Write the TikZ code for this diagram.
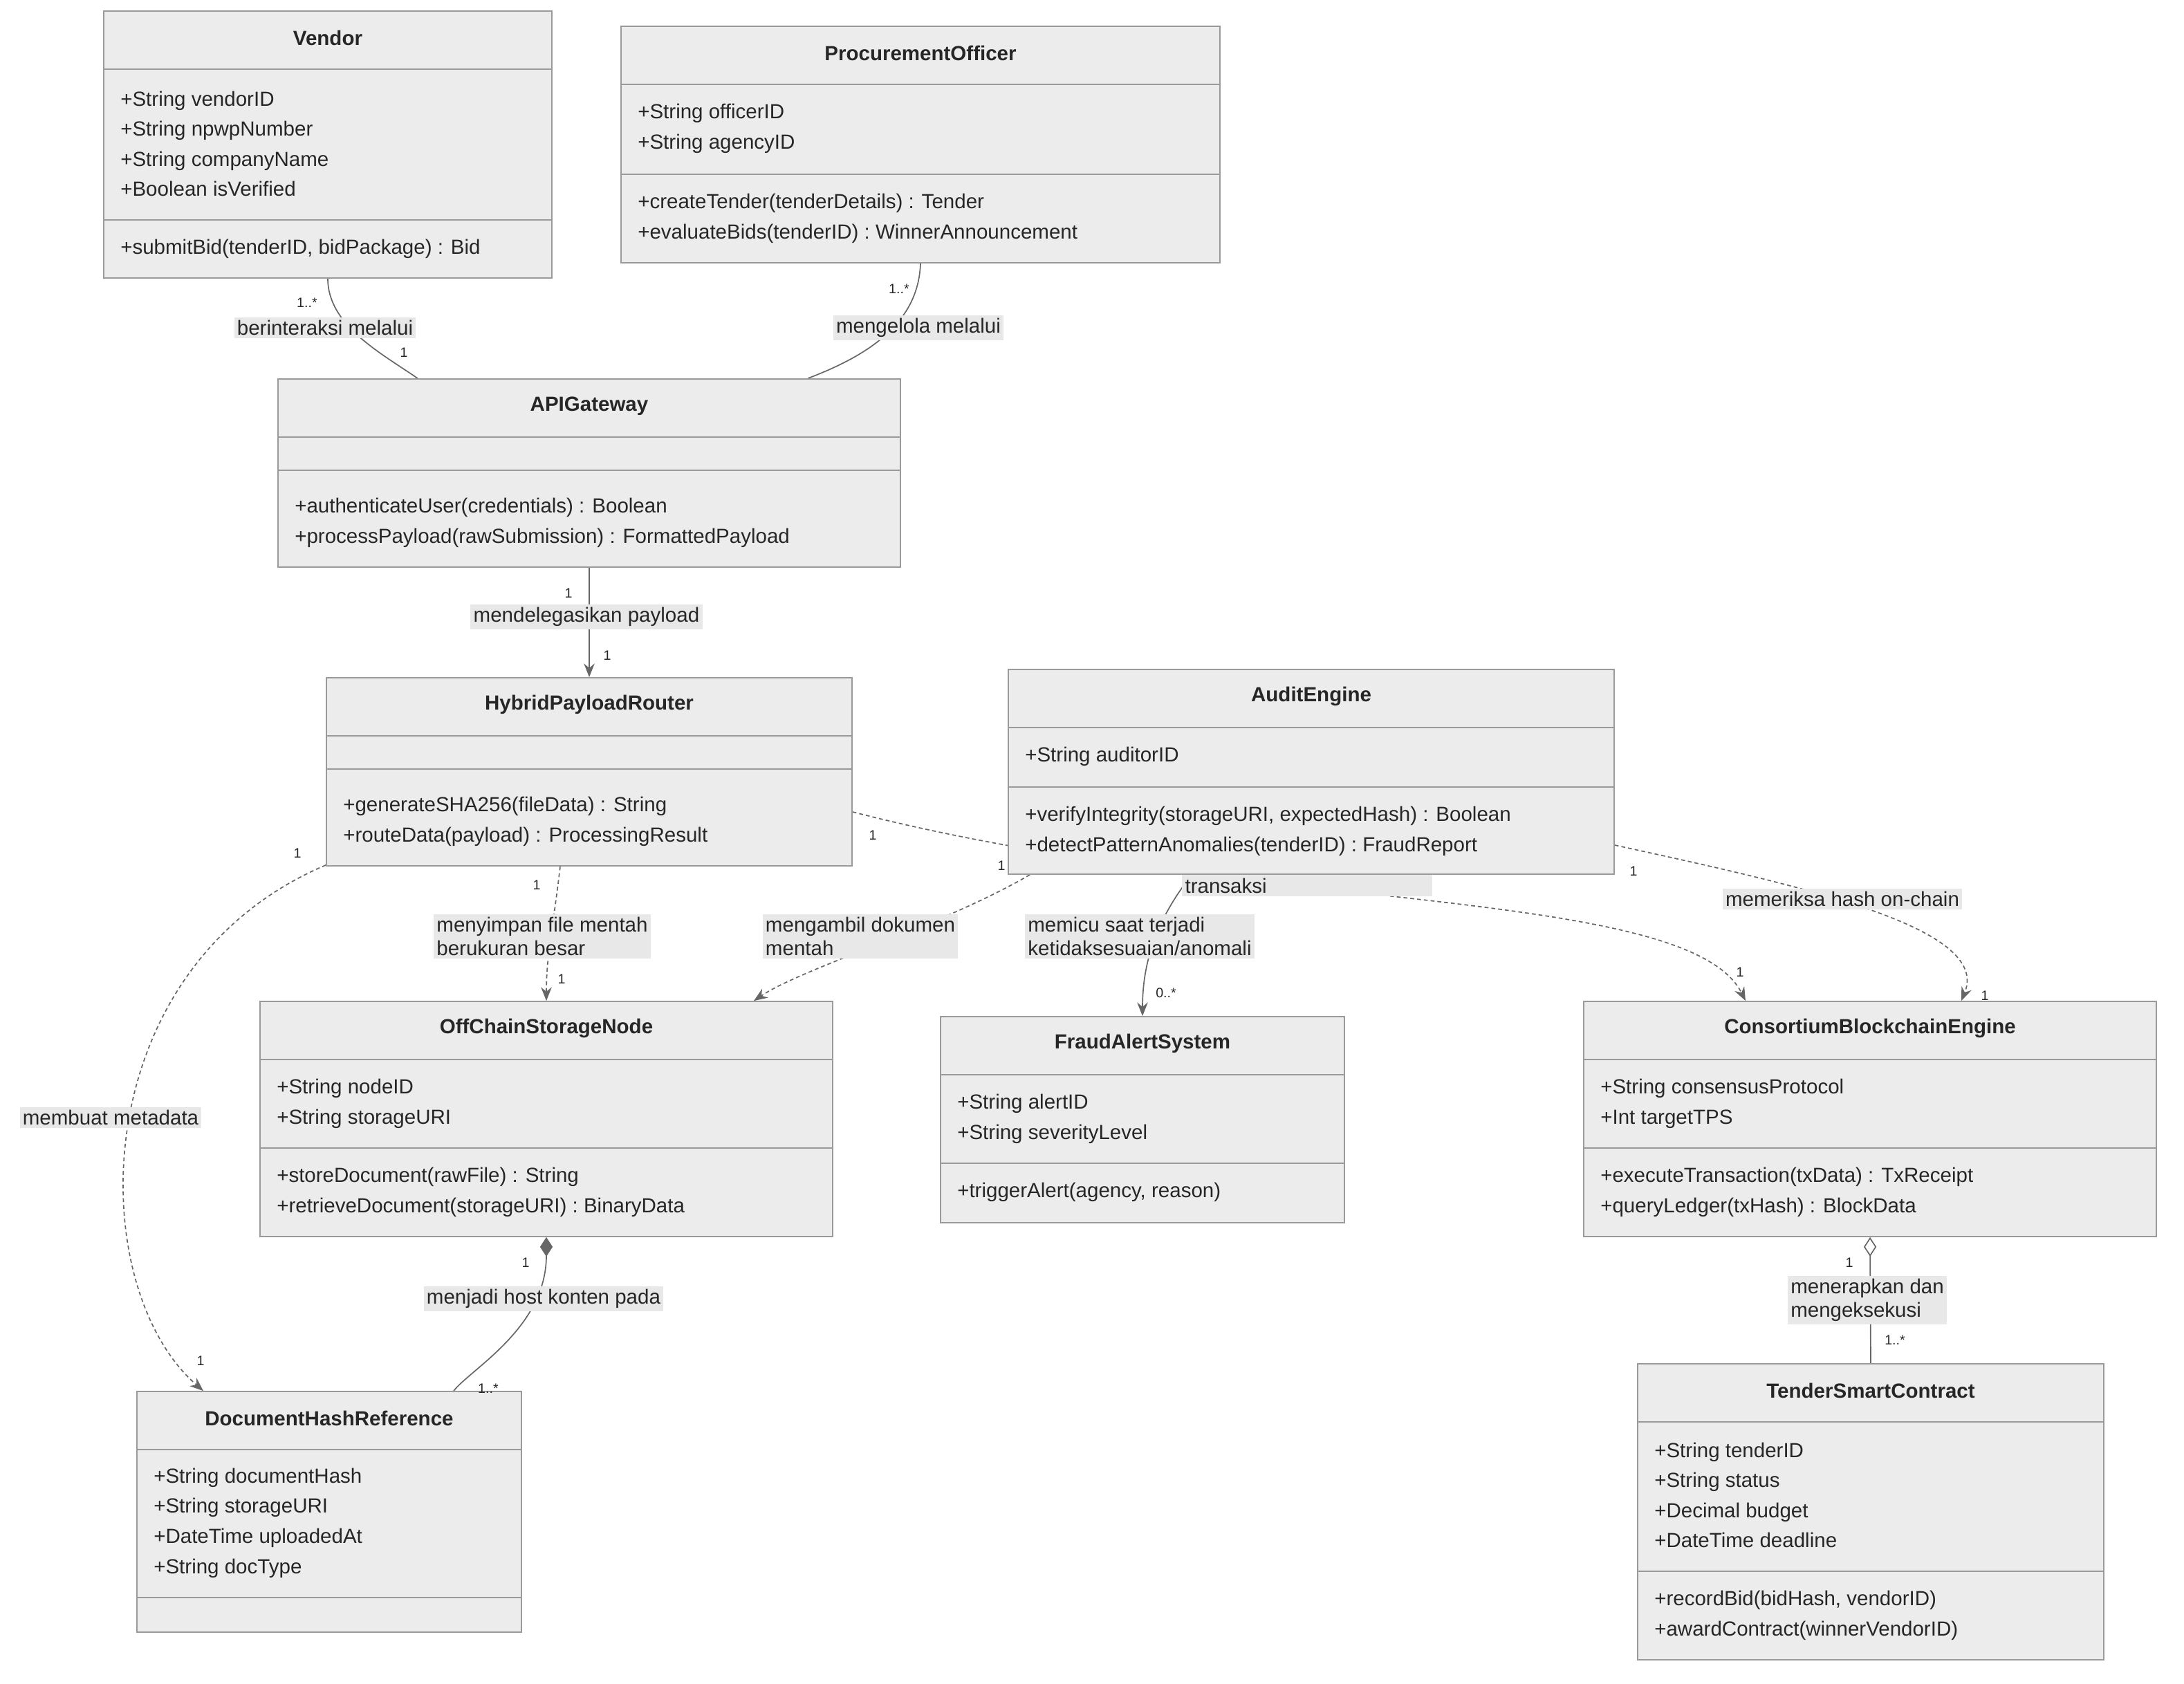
\documentclass[tikz,border=0pt]{standalone}
\usepackage{fontspec}
\setmainfont{Liberation Sans}
\usetikzlibrary{arrows.meta,calc,fit,backgrounds}
\definecolor{boxfill}{HTML}{ECECEC}
\definecolor{boxline}{HTML}{9A9A9A}
\definecolor{edgecol}{HTML}{666666}
\definecolor{lblfill}{HTML}{E8E8E8}

\tikzset{
  classbox/.style={draw=boxline, fill=boxfill, line width=1.2pt, inner sep=0pt},
  classline/.style={draw=boxline, line width=1.2pt},
  title/.style={font=\fontsize{21}{26}\selectfont\bfseries, text=black!85},
  member/.style={anchor=west, align=left, inner sep=0pt, font=\fontsize{21}{31}\selectfont, text=black!85},
  lbl/.style={fill=lblfill, align=left, inner sep=3pt, font=\fontsize{21}{24}\selectfont, text=black!85},
  mult/.style={font=\fontsize{14}{16}\selectfont, text=black!85, inner sep=1pt},
  assoc/.style={draw=edgecol, line width=1.2pt},
  dep/.style={assoc, dashed, dash pattern=on 4pt off 3pt},
  tip/.style={-{Stealth[length=14pt,width=11pt]}}
}

% box, title and compartment lines
\newcommand{\umlclass}[6]{%
  \node[classbox, fit={(#2) (#3)}] (#1) {};
  \node[title] (#1-title) at ($(#1.north)+(0,20)$) {#4};
  \draw[classline] (#1.west |- 0,#5) -- (#1.east |- 0,#5);
  \draw[classline] (#1.west |- 0,#6) -- (#1.east |- 0,#6);
}

\begin{document}
\begin{tikzpicture}[x=0.05cm, y=-0.05cm]
  \useasboundingbox (0,0) rectangle (1579,1217.5);

  % labels first, boxes may cover them
  \node[lbl] (l-vendor) at (235,237) {berinteraksi melalui};
  \node[lbl] (l-officer) at (664,237) {mengelola melalui};
  \node[lbl] (l-api) at (424,446) {mendelegasikan payload};
  \node[lbl] (l-meta) at (80,808) {membuat metadata};
  \node[lbl] (l-store) at (392,677) {menyimpan file mentah\\berukuran besar};
  \node[lbl] (l-fetch) at (622,677) {mengambil dokumen\\mentah};
  \node[lbl] (l-chain) at (945,632) {mengirimkan hash payload\\transaksi};
  \node[lbl] (l-fraud) at (824,677) {memicu saat terjadi\\ketidaksesuaian/anomali};
  \node[lbl] (l-check) at (1332,650) {memeriksa hash on-chain};
  \node[lbl] (l-host) at (393,939) {menjadi host konten pada};
  \node[lbl] (l-exec) at (1350,940) {menerapkan dan\\mengeksekusi};

  % classes
  \umlclass{vendor}{75,8}{399,201}{Vendor}{50}{159}
  \node[member] at (87,104) {+String vendorID\\+String npwpNumber\\+String companyName\\+Boolean isVerified};
  \node[member] at (87,180) {+submitBid(tenderID, bidPackage) : Bid};

  \umlclass{officer}{449,19}{882,190}{ProcurementOfficer}{61}{126}
  \node[member] at (461,93) {+String officerID\\+String agencyID};
  \node[member] at (461,158) {+createTender(tenderDetails) : Tender\\+evaluateBids(tenderID) : WinnerAnnouncement};

  \umlclass{api}{201,274}{651,410}{APIGateway}{316}{340}
  \node[member] at (213,378) {+authenticateUser(credentials) : Boolean\\+processPayload(rawSubmission) : FormattedPayload};

  \umlclass{hpr}{236,490}{616,626}{HybridPayloadRouter}{532}{556}
  \node[member] at (248,594) {+generateSHA256(fileData) : String\\+routeData(payload) : ProcessingResult};

  \umlclass{audit}{729,484}{1167,632}{AuditEngine}{526}{569}
  \node[member] at (741,547) {+String auditorID};
  \node[member] at (741,601) {+verifyIntegrity(storageURI, expectedHash) : Boolean\\+detectPatternAnomalies(tenderID) : FraudReport};

  \umlclass{offchain}{188,724}{602,894}{OffChainStorageNode}{766}{830}
  \node[member] at (200,798) {+String nodeID\\+String storageURI};
  \node[member] at (200,862) {+storeDocument(rawFile) : String\\+retrieveDocument(storageURI) : BinaryData};

  \umlclass{fraud}{680,735}{972,884}{FraudAlertSystem}{777}{841}
  \node[member] at (692,809) {+String alertID\\+String severityLevel};
  \node[member] at (692,862) {+triggerAlert(agency, reason)};

  \umlclass{chain}{1145,724}{1559,894}{ConsortiumBlockchainEngine}{766}{830}
  \node[member] at (1157,798) {+String consensusProtocol\\+Int targetTPS};
  \node[member] at (1157,862) {+executeTransaction(txData) : TxReceipt\\+queryLedger(txHash) : BlockData};

  \umlclass{dochash}{99,1006}{377,1180}{DocumentHashReference}{1048}{1155}
  \node[member] at (111,1101) {+String documentHash\\+String storageURI\\+DateTime uploadedAt\\+String docType};

  \umlclass{tender}{1184,986}{1521,1200}{TenderSmartContract}{1028}{1136}
  \node[member] at (1196,1081) {+String tenderID\\+String status\\+Decimal budget\\+DateTime deadline};
  \node[member] at (1196,1168) {+recordBid(bidHash, vendorID)\\+awardContract(winnerVendorID)};

  % multiplicities
  \node[mult] (m1) at (222,219) {1..*};
  \node[mult] (m2) at (292,255) {1};
  \node[mult] (m3) at (650,209) {1..*};
  \node[mult] (m4) at (411,429) {1};
  \node[mult] (m5) at (439,474) {1};
  \node[mult] (m6) at (215,617) {1};
  \node[mult] (m7) at (145,984) {1};
  \node[mult] (m8) at (388,640) {1};
  \node[mult] (m9) at (406,708) {1};
  \node[mult] (m10) at (724,626) {1};
  \node[mult] (m11) at (843,718) {0..*};
  \node[mult] (m12) at (631,604) {1};
  \node[mult] (m13) at (1258,703) {1};
  \node[mult] (m14) at (1181,630) {1};
  \node[mult] (m15) at (1435,720) {1};
  \node[mult] (m16) at (380,913) {1};
  \node[mult] (m17) at (353,1004) {1..*};
  \node[mult] (m18) at (1337,913) {1};
  \node[mult] (m19) at (1370,969) {1..*};

  \begin{pgfonlayer}{background}
    \draw[assoc] (vendor.south) .. controls (237,235) and (275,255) .. ($(api.north)+(-124,0)$);
    \draw[assoc] (officer.south) .. controls (664,235) and (625,258) .. ($(api.north)+(158,0)$);
    \draw[assoc, tip] (api.south) -- (hpr.north);
    \draw[dep, tip] ($(hpr.south west)+(0,-1)$) .. controls (60,700) and (60,930) .. ($(dochash.north)+(-91,0)$);
    \draw[dep, tip] ($(hpr.south)+(-21,0)$) .. controls (400,670) and (395,690) .. (offchain.north);
    \draw[dep, tip] ($(audit.south west)+(16,0)$) .. controls (680,670) and (580,700) .. ($(offchain.north)+(150,0)$);
    \draw[assoc, tip] ($(audit.south west)+(133,0)$) .. controls (840,660) and (826,690) .. (fraud.north);
    \draw[dep, tip] ($(hpr.east)+(0,29)$) .. controls (900,660) and (1220,640) .. ($(chain.north)+(-90,0)$);
    \draw[dep, tip] ($(audit.east)+(0,53)$) .. controls (1300,640) and (1440,670) .. ($(chain.north)+(66,0)$);
    \draw[assoc, {Diamond[length=20pt,width=13pt]}-] (offchain.south) .. controls (395,960) and (340,990) .. ($(dochash.north)+(90,0)$);
    \draw[assoc, {Diamond[open,fill=white,length=20pt,width=13pt]}-] (chain.south) -- (tender.north);
  \end{pgfonlayer}
\end{tikzpicture}
\end{document}
